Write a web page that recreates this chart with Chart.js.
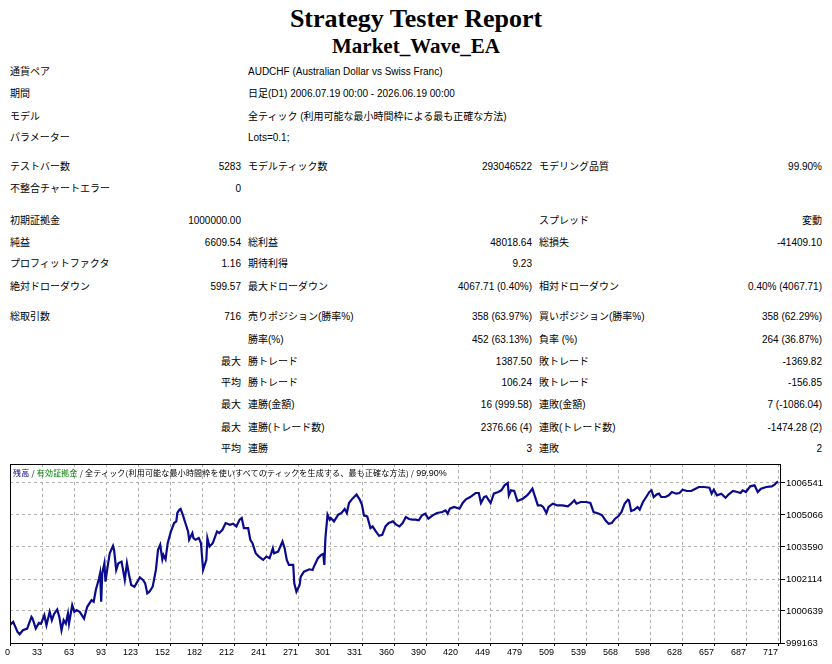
<!DOCTYPE html>
<html lang="ja">
<head>
<meta charset="utf-8">
<title>Strategy Tester: Market_Wave_EA</title>
<script src="https://cdn.jsdelivr.net/npm/chart.js@4"></script>
<style>
  html, body { margin: 0; padding: 0; background: #fff; }
  body { width: 832px; height: 664px; overflow: hidden; position: relative;
         font-family: "Liberation Sans", "Noto Sans CJK JP", sans-serif; font-size: 10px; color: #000; }
  .title { position: absolute; left: 0; width: 832px; text-align: center;
           font-family: "Liberation Serif", serif; font-weight: bold; }
  .r { position: absolute; left: 0; width: 832px; height: 14px; line-height: 14px; }
  .r span { position: absolute; white-space: nowrap; }
  .a { left: 10px; }
  .b { right: 591px; }
  .c { left: 248px; }
  .d { right: 300px; }
  .e { left: 539px; }
  .f { right: 10px; }
  #chartBox { position: absolute; left: 0; top: 455px; width: 832px; height: 209px; }
  #chartHead { position: absolute; left: 13px; top: 467px; font-size: 8px; line-height: 11px;
               letter-spacing: 0.2px; white-space: nowrap; font-family: "Noto Sans CJK JP", sans-serif; }
  #chartHead .bal { color: #000080; }
  #chartHead .eq { color: #008000; }
</style>
</head>
<body>

<div class="title" style="top:6px; font-size:26px; line-height:26px;">Strategy Tester Report</div>
<div class="title" style="top:36px; font-size:21px; line-height:21px;">Market_Wave_EA</div>

<div class="r" style="top:65px"><span class="a">通貨ペア</span><span class="c">AUDCHF (Australian Dollar vs Swiss Franc)</span></div>
<div class="r" style="top:87px"><span class="a">期間</span><span class="c">日足(D1) 2006.07.19 00:00 - 2026.06.19 00:00</span></div>
<div class="r" style="top:110px"><span class="a">モデル</span><span class="c">全ティック (利用可能な最小時間枠による最も正確な方法)</span></div>
<div class="r" style="top:131px"><span class="a">パラメーター</span><span class="c">Lots=0.1;</span></div>

<div class="r" style="top:160px"><span class="a">テストバー数</span><span class="b">5283</span><span class="c">モデルティック数</span><span class="d">293046522</span><span class="e">モデリング品質</span><span class="f">99.90%</span></div>
<div class="r" style="top:182px"><span class="a">不整合チャートエラー</span><span class="b">0</span></div>

<div class="r" style="top:214px"><span class="a">初期証拠金</span><span class="b">1000000.00</span><span class="e">スプレッド</span><span class="f">変動</span></div>
<div class="r" style="top:236px"><span class="a">純益</span><span class="b">6609.54</span><span class="c">総利益</span><span class="d">48018.64</span><span class="e">総損失</span><span class="f">-41409.10</span></div>
<div class="r" style="top:257px"><span class="a">プロフィットファクタ</span><span class="b">1.16</span><span class="c">期待利得</span><span class="d">9.23</span></div>
<div class="r" style="top:280px"><span class="a">絶対ドローダウン</span><span class="b">599.57</span><span class="c">最大ドローダウン</span><span class="d">4067.71 (0.40%)</span><span class="e">相対ドローダウン</span><span class="f">0.40% (4067.71)</span></div>

<div class="r" style="top:310px"><span class="a">総取引数</span><span class="b">716</span><span class="c">売りポジション(勝率%)</span><span class="d">358 (63.97%)</span><span class="e">買いポジション(勝率%)</span><span class="f">358 (62.29%)</span></div>
<div class="r" style="top:333px"><span class="c">勝率(%)</span><span class="d">452 (63.13%)</span><span class="e">負率 (%)</span><span class="f">264 (36.87%)</span></div>
<div class="r" style="top:355px"><span class="b">最大</span><span class="c">勝トレード</span><span class="d">1387.50</span><span class="e">敗トレード</span><span class="f">-1369.82</span></div>
<div class="r" style="top:376px"><span class="b">平均</span><span class="c">勝トレード</span><span class="d">106.24</span><span class="e">敗トレード</span><span class="f">-156.85</span></div>
<div class="r" style="top:398px"><span class="b">最大</span><span class="c">連勝(金額)</span><span class="d">16 (999.58)</span><span class="e">連敗(金額)</span><span class="f">7 (-1086.04)</span></div>
<div class="r" style="top:421px"><span class="b">最大</span><span class="c">連勝(トレード数)</span><span class="d">2376.66 (4)</span><span class="e">連敗(トレード数)</span><span class="f">-1474.28 (2)</span></div>
<div class="r" style="top:442px"><span class="b">平均</span><span class="c">連勝</span><span class="d">3</span><span class="e">連敗</span><span class="f">2</span></div>

<div id="chartBox"><canvas id="balanceChart"></canvas></div>
<div id="chartHead"><span class="bal">残高</span> / <span class="eq">有効証拠金</span> / 全ティック(利用可能な最小時間枠を使いすべてのティックを生成する、最も正確な方法) / <span style="font-family:'Liberation Sans'; font-size:9px; letter-spacing:0">99.90%</span></div>

<script>
// trade number and balance after that trade
const tradeIdx = [
  0, 3, 7, 9, 12, 16, 20, 21, 24, 27, 29, 32, 34, 37, 39, 41, 44, 46, 48, 50,
  52, 54, 55, 58, 60, 62, 65, 69, 72, 76, 78, 80, 83, 84, 85, 86, 88, 89, 91, 93,
  96, 97, 99, 101, 104, 107, 109, 111, 113, 116, 121, 124, 126, 128, 130, 133, 136, 138, 140, 142,
  143, 145, 147, 150, 153, 155, 156, 158, 159, 161, 164, 166, 167, 170, 171, 173, 176, 178, 180, 183,
  184, 186, 189, 193, 195, 198, 201, 205, 208, 211, 214, 216, 218, 222, 224, 226, 229, 232, 236, 239,
  242, 245, 246, 250, 254, 256, 258, 260, 264, 265, 267, 270, 271, 274, 279, 282, 284, 287, 290, 292,
  293, 294, 296, 298, 299, 302, 306, 309, 312, 314, 316, 319, 323, 326, 328, 330, 333, 336, 338, 341,
  344, 347, 350, 353, 357, 360, 363, 366, 369, 372, 375, 378, 381, 384, 387, 390, 394, 398, 403, 406,
  408, 410, 414, 419, 422, 425, 429, 434, 437, 439, 442, 444, 448, 451, 455, 458, 461, 464, 465, 467,
  470, 473, 478, 482, 484, 487, 489, 492, 495, 497, 500, 502, 506, 510, 515, 520, 523, 526, 528, 532,
  537, 541, 544, 549, 552, 555, 558, 561, 564, 567, 570, 573, 576, 577, 579, 582, 585, 587, 590, 593,
  596, 598, 600, 603, 605, 607, 611, 614, 617, 621, 624, 627, 631, 635, 639, 642, 647, 652, 654, 656,
  659, 663, 667, 670, 674, 678, 681, 683, 686, 690, 694, 697, 700, 705, 710, 713, 714, 716
];
const balance = [
  1000000, 1000136, 999673, 999565, 999750, 999827, 1000368, 1000291, 999827, 1000090,
  1000059, 1000445, 999982, 1000600, 1000214, 1000492, 1000708, 1000368, 999750, 1000214,
  1000059, 1000523, 1000059, 1000909, 1000600, 1000677, 1000600, 1000291, 1000832, 1001141,
  1001063, 1001604, 1002145, 1002377, 1001064, 1002377, 1002840, 1001990, 1002686, 1003304,
  1003644, 1003458, 1002531, 1002840, 1002917, 1002068, 1002840, 1002299, 1001836, 1001759,
  1002191, 1002068, 1001913, 1001450, 1001527, 1001759, 1002531, 1003458, 1003690, 1003026,
  1003226, 1003026, 1003767, 1004308, 1004694, 1004771, 1005158, 1005312, 1005343, 1005080,
  1004617, 1004308, 1003922, 1004231, 1003999, 1003922, 1003999, 1003767, 1002531, 1002995,
  1003999, 1003613, 1003767, 1004308, 1004231, 1004385, 1004694, 1004617, 1004663, 1004540,
  1004849, 1004926, 1004462, 1004462, 1003922, 1003767, 1003304, 1003149, 1002995, 1003149,
  1003072, 1003535, 1003304, 1003381, 1003844, 1003535, 1002995, 1002763, 1002763, 1001913,
  1001527, 1001836, 1002222, 1002454, 1002562, 1002531, 1002763, 1003072, 1003226, 1003273,
  1002763, 1003999, 1005080, 1004849, 1004926, 1004771, 1005080, 1005158, 1005343, 1005158,
  1005621, 1005807, 1006007, 1005776, 1005544, 1005034, 1005003, 1004462, 1004540, 1004308,
  1004107, 1004153, 1004540, 1004694, 1004771, 1004617, 1004540, 1004694, 1004972, 1004880,
  1004850, 1004850, 1004819, 1005050, 1005127, 1004896, 1005050, 1005157, 1005203, 1005280,
  1005127, 1005357, 1005434, 1005357, 1005618, 1005787, 1005895, 1006080, 1006080, 1005618,
  1005895, 1005926, 1005618, 1006049, 1006126, 1006202, 1006433, 1006541, 1005972, 1006202,
  1006172, 1005711, 1005818, 1005972, 1006080, 1006279, 1005972, 1005511, 1005511, 1005434,
  1005157, 1005434, 1005588, 1005511, 1005511, 1005465, 1005588, 1005741, 1005588, 1005665,
  1005665, 1005618, 1005203, 1005127, 1005050, 1004819, 1004665, 1004696, 1004896, 1005004,
  1005203, 1005588, 1005772, 1005741, 1005250, 1005311, 1005434, 1005311, 1005665, 1005895,
  1006126, 1006202, 1005895, 1006018, 1006049, 1005895, 1005895, 1005972, 1006126, 1006049,
  1006080, 1006233, 1006172, 1006172, 1006279, 1006356, 1006356, 1006325, 1006049, 1006233,
  1005972, 1006049, 1005864, 1006018, 1006172, 1006126, 1006080, 1006202, 1006126, 1006387,
  1006433, 1006126, 1006279, 1006356, 1006387, 1006479, 1006541, 1006610
];

const xTickLabels = ['0', '33', '63', '93', '123', '152', '182', '212', '241', '271', '301', '331', '360',
  '390', '420', '449', '479', '509', '539', '568', '598', '628', '657', '687', '717'];
const yTickLabels = ['999163', '1000639', '1002114', '1003590', '1005066', '1006541'];

const xStep = 716 / 24;            // tester spaces its trade ticks evenly
const yStep = 1475.6;

// black box round the plot, like the tester picture
const framePlugin = {
  id: 'frame',
  afterDraw(chart) {
    const a = chart.chartArea;
    const c = chart.ctx;
    c.save();
    c.strokeStyle = '#000';
    c.lineWidth = 1;
    c.strokeRect(Math.round(a.left) + 0.5, Math.round(a.top) + 0.5,
                 Math.round(a.right - a.left) - 1, Math.round(a.bottom - a.top));
    c.restore();
  }
};

const points = tradeIdx.map((t, i) => ({ x: t, y: balance[i] }));

new Chart(document.getElementById('balanceChart'), {
  type: 'line',
  data: {
    datasets: [{
      label: '残高',
      data: points,
      borderColor: '#0a0a8c',
      borderWidth: 2.2,
      pointRadius: 0,
      tension: 0,
      fill: false
    }]
  },
  options: {
    responsive: true,
    maintainAspectRatio: false,
    animation: false,
    layout: { padding: { left: 10, top: 9, right: 0, bottom: 0 } },
    plugins: {
      legend: { display: false },
      tooltip: { enabled: false }
    },
    scales: {
      x: {
        type: 'linear',
        min: 0,
        max: xStep * 24.09,
        afterBuildTicks: (scale) => {
          scale.ticks = xTickLabels.map((l, i) => ({ value: i * xStep }));
        },
        afterFit: (scale) => { scale.height = 21; },
        ticks: {
          autoSkip: false,
          maxRotation: 0,
          align: 'end',
          padding: 1,
          color: '#000',
          font: { family: 'Liberation Sans', size: 9 },
          callback: (v, i) => xTickLabels[i]
        },
        grid: { color: '#b0b0b0', tickLength: 3, tickColor: '#000' },
        border: { display: false, dash: [3, 3] }
      },
      y: {
        type: 'linear',
        position: 'right',
        min: 999163,
        max: 999163 + 179 * (yStep / 32),
        afterBuildTicks: (scale) => {
          scale.ticks = yTickLabels.map((l) => ({ value: Number(l) }));
        },
        afterFit: (scale) => { scale.width = 51; },
        ticks: {
          padding: 1,
          color: '#000',
          font: { family: 'Liberation Sans', size: 9.5 },
          callback: (v, i) => yTickLabels[i]
        },
        grid: { color: '#b0b0b0', tickLength: 4, tickColor: '#000' },
        border: { display: false, dash: [3, 3] }
      }
    }
  },
  plugins: [framePlugin]
});
</script>
</body>
</html>
